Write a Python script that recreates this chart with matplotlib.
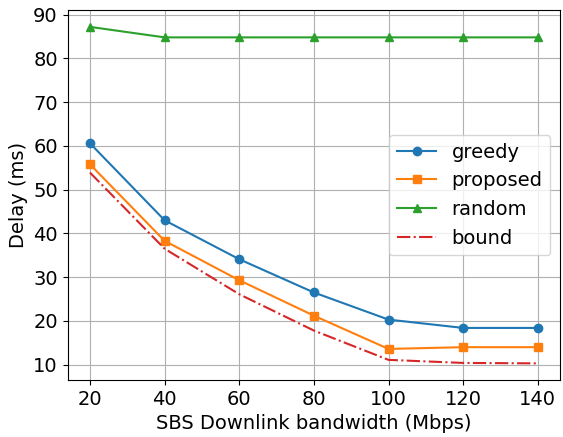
import numpy as np
import matplotlib.pyplot as plt

# bandwidth values (Mbps)
bandwidth = [20, 40, 60, 80, 100, 120, 140]

# delay (ms)
greedy = [60.6, 43.0, 34.1, 26.5, 20.3, 18.4, 18.4]
proposed = [55.8, 38.3, 29.3, 21.2, 13.6, 14.0, 14.0]
random_ = [87.2, 84.8, 84.8, 84.8, 84.8, 84.8, 84.8]
bound = [53.9, 36.5, 26.1, 17.8, 11.1, 10.4, 10.3]

plt.rcParams['font.size'] = 14

fig, ax = plt.subplots(figsize=(5.63, 4.37), dpi=100)
ax.plot(bandwidth, greedy, marker='o', color='tab:blue', label='greedy')
ax.plot(bandwidth, proposed, marker='s', color='tab:orange', label='proposed')
ax.plot(bandwidth, random_, marker='^', color='tab:green', label='random')
ax.plot(bandwidth, bound, linestyle='-.', color='tab:red', label='bound')

ax.set_xticks(bandwidth)
ax.set_xlabel('SBS Downlink bandwidth (Mbps)')
ax.set_ylabel('Delay (ms)')
ax.grid(True)
ax.legend(loc='center right')

fig.subplots_adjust(left=0.12, right=0.995, top=0.977, bottom=0.13)
plt.savefig('out.png')
